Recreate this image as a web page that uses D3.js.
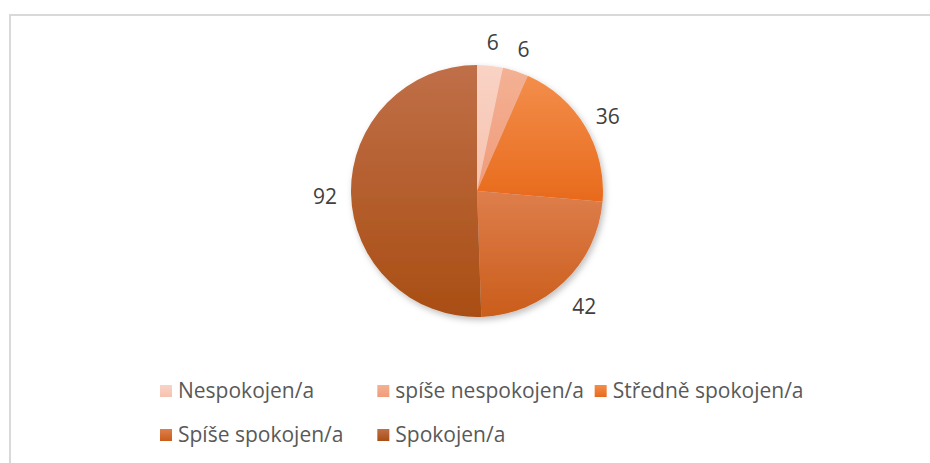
<!DOCTYPE html>
<html>
<head>
<meta charset="utf-8">
<script src="https://cdn.jsdelivr.net/npm/d3@7"></script>
<style>
  body { margin: 0; background: #fff; }
  svg { display: block; font-family: "Open Sans", sans-serif; }
</style>
</head>
<body>
<svg id="chart"></svg>
<script>
var categories = ["Nespokojen/a", "spíše nespokojen/a", "Středně spokojen/a", "Spíše spokojen/a", "Spokojen/a"];
var values = [6, 6, 36, 42, 92];
var colorsTop = ["#f9d3c5", "#f4b194", "#f38e4b", "#de7e4c", "#c06f48"];
var colorsBottom = ["#f6c2ae", "#f09b79", "#e86a1c", "#ca5d1b", "#a94e14"];

var data = categories.map(function (c, i) {
    return { name: c, value: values[i], i: i };
});

var width = 930, height = 463;

var svg = d3.select("#chart")
    .attr("width", width)
    .attr("height", height);

var defs = svg.append("defs");

defs.selectAll("linearGradient")
    .data(data)
    .enter()
    .append("linearGradient")
    .attr("id", function (d) { return "grad" + d.i; })
    .attr("x1", 0).attr("y1", 0).attr("x2", 0).attr("y2", 1)
    .each(function (d) {
        var g = d3.select(this);
        g.append("stop").attr("offset", "0%").attr("stop-color", colorsTop[d.i]);
        g.append("stop").attr("offset", "100%").attr("stop-color", colorsBottom[d.i]);
    });

var shadow = defs.append("filter")
    .attr("id", "shadow")
    .attr("x", "-20%").attr("y", "-20%")
    .attr("width", "140%").attr("height", "140%");
shadow.append("feDropShadow")
    .attr("dx", 2).attr("dy", 3)
    .attr("stdDeviation", 3)
    .attr("flood-color", "#000")
    .attr("flood-opacity", 0.25);

// chart frame
svg.append("rect")
    .attr("x", 10)
    .attr("y", 15)
    .attr("width", width + 10)
    .attr("height", height + 10)
    .attr("fill", "#fff")
    .attr("stroke", "#d9d9d9")
    .attr("stroke-width", 2);

var cx = 477, cy = 191, radius = 126;

var pie = d3.pie()
    .sort(null)
    .value(function (d) { return d.value; });

var arc = d3.arc()
    .innerRadius(0)
    .outerRadius(radius);

var labelArc = d3.arc()
    .innerRadius(152)
    .outerRadius(152);

var g = svg.append("g")
    .attr("transform", "translate(" + cx + "," + cy + ")");

var arcs = pie(data);

g.append("g")
    .attr("filter", "url(#shadow)")
    .selectAll("path")
    .data(arcs)
    .enter()
    .append("path")
    .attr("d", arc)
    .attr("fill", function (d) { return "url(#grad" + d.data.i + ")"; });

g.selectAll("text.label")
    .data(arcs)
    .enter()
    .append("text")
    .attr("class", "label")
    .attr("transform", function (d) {
        var c = labelArc.centroid(d);
        // outside-end labels sit a little further out on the lower half
        var a = (d.startAngle + d.endAngle) / 2;
        var push = Math.max(0, -Math.cos(a)) * 5;
        return "translate(" + (c[0] + Math.sin(a) * push) + "," + (c[1] - Math.cos(a) * push + 3) + ")";
    })
    .attr("text-anchor", "middle")
    .attr("dy", "0.35em")
    .style("font-size", "21px")
    .style("fill", "#404040")
    .text(function (d) { return d.data.value; });

// legend
var legendCols = d3.scaleBand()
    .domain([0, 1, 2])
    .range([160, 812]);

var legendRows = d3.scalePoint()
    .domain([0, 1])
    .range([391, 435]);

var legend = svg.append("g")
    .selectAll("g")
    .data(data)
    .enter()
    .append("g")
    .attr("transform", function (d) {
        return "translate(" + legendCols(d.i % 3) + "," + legendRows(Math.floor(d.i / 3)) + ")";
    });

legend.append("rect")
    .attr("x", 0)
    .attr("y", -6)
    .attr("width", 12)
    .attr("height", 12)
    .attr("fill", function (d) { return "url(#grad" + d.i + ")"; });

legend.append("text")
    .attr("x", 18)
    .attr("dy", "0.35em")
    .style("font-size", "21px")
    .style("fill", "#595959")
    .text(function (d) { return d.name; });
</script>
</body>
</html>
